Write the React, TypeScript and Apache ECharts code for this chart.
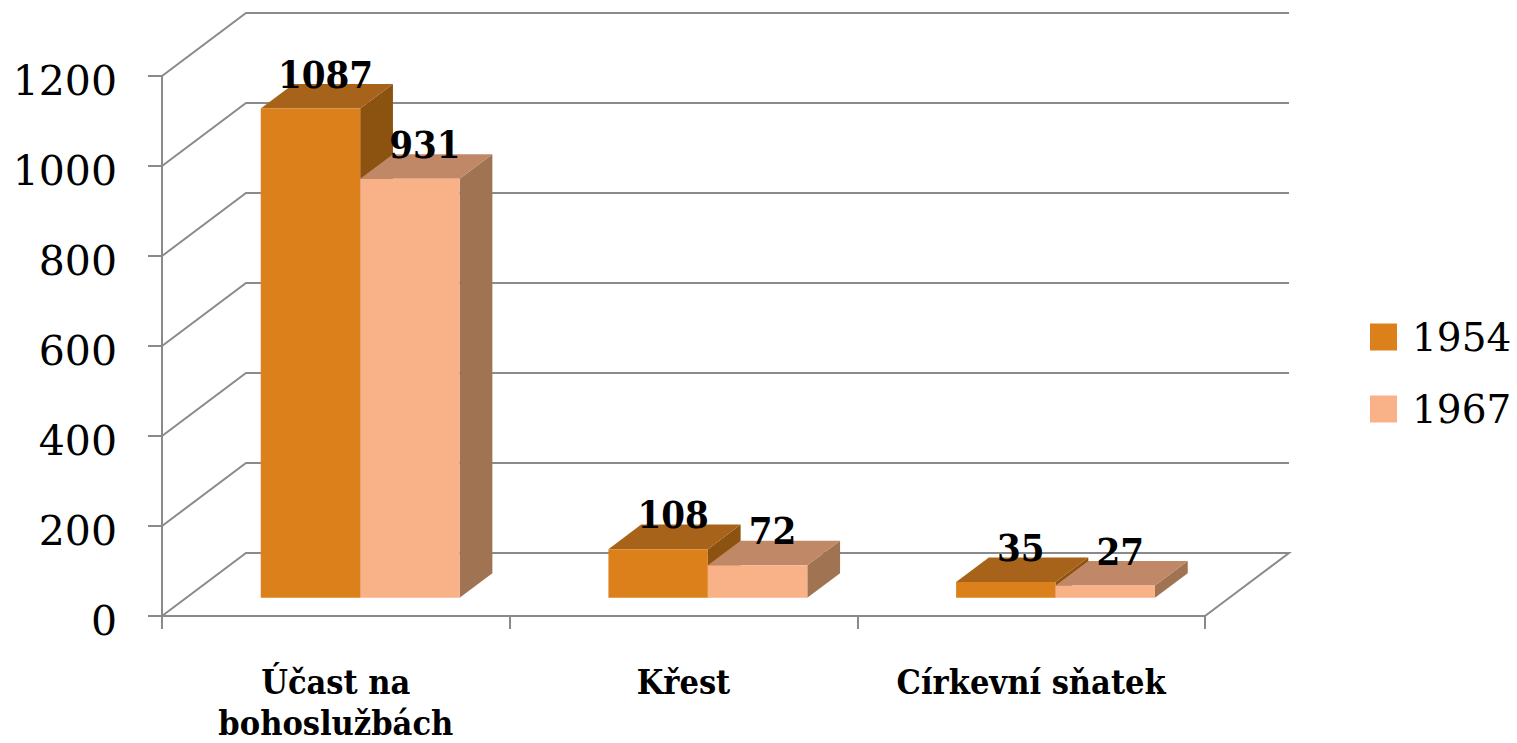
import React, { useEffect, useRef } from "react";
import * as echarts from "echarts";

const categories = ["Účast na\nbohoslužbách", "Křest", "Církevní sňatek"];
const seriesNames = ["1954", "1967"];
const values1954 = [1087, 108, 35];
const values1967 = [931, 72, 27];
const yTicks = [0, 200, 400, 600, 800, 1000, 1200];

const frontColors = ["#DB801B", "#F9B288"];
const topColors = ["#A8631A", "#C08866"];
const sideColors = ["#8C5210", "#A07453"];

// 3D projection parameters
const DEPTH_X = 84;
const DEPTH_Y = -63;
const BAR_FRONT = 0.29; // fraction of depth where bar front sits
const BAR_DEPTH = 0.39; // fraction of depth occupied by bar
const BAR_W = 0.286; // fraction of category band per bar
const GRID_COLOR = "#8A8A8A";
const COND = '"DejaVu Serif Condensed", "DejaVu Serif", serif';

function makeBarSeries(name: string, values: number[], s: number) {
  return {
    name,
    type: "custom",
    z: 5 + s,
    itemStyle: { color: frontColors[s] },
    data: values.map((v, i) => [i, v]),
    renderItem: (params: any, api: any) => {
      const cat = api.value(0);
      const val = api.value(1);
      const base = api.coord([cat, 0]);
      const top = api.coord([cat, val]);
      const bw = api.size([1, 0])[0];
      const sx = DEPTH_X * BAR_FRONT;
      const sy = DEPTH_Y * BAR_FRONT;
      const ddx = DEPTH_X * BAR_DEPTH;
      const ddy = DEPTH_Y * BAR_DEPTH;
      const W = bw * BAR_W;
      const L = base[0] + sx - W + s * W;
      const yb = base[1] + sy;
      const yt = top[1] + sy;
      return {
        type: "group",
        children: [
          {
            type: "polygon",
            shape: { points: [[L + W, yt], [L + W + ddx, yt + ddy], [L + W + ddx, yb + ddy], [L + W, yb]] },
            style: { fill: sideColors[s] },
          },
          {
            type: "polygon",
            shape: { points: [[L, yt], [L + W, yt], [L + W + ddx, yt + ddy], [L + ddx, yt + ddy]] },
            style: { fill: topColors[s] },
          },
          {
            type: "rect",
            shape: { x: L, y: yt, width: W, height: yb - yt },
            style: { fill: frontColors[s] },
          },
          {
            type: "text",
            z2: 10,
            style: {
              text: String(val),
              x: L + W / 2 + 15,
              y: yt + ddy + 9,
              align: "center",
              verticalAlign: "bottom",
              fontSize: 38,
              fontWeight: "bold",
              fontFamily: COND,
              fill: "#000",
            },
          },
        ],
      };
    },
  };
}

export default function App() {
  const ref = useRef<HTMLDivElement>(null);
  useEffect(() => {
    document.body.style.margin = "0";
    const chart = echarts.init(ref.current!, null, { renderer: "svg" });
    const option: any = {
      animation: false,
      backgroundColor: "#fff",
      grid: { left: 162, top: 76, width: 1043, height: 546, containLabel: false },
      legend: {
        data: seriesNames,
        orient: "vertical",
        left: 1365,
        top: 312,
        icon: "rect",
        itemWidth: 27,
        itemHeight: 27,
        itemGap: 32,
        selectedMode: false,
        textStyle: {
          fontFamily: "DejaVu Serif",
          fontSize: 39,
          lineHeight: 40,
          color: "#000",
          padding: [0, 0, 0, 10],
        },
      },
      xAxis: {
        type: "category",
        data: categories,
        boundaryGap: true,
        axisLine: { show: true, lineStyle: { color: GRID_COLOR, width: 2 } },
        axisTick: { show: true, length: 13, lineStyle: { color: GRID_COLOR, width: 2 } },
        axisLabel: {
          margin: 45,
          fontFamily: COND,
          fontWeight: "bold",
          fontSize: 34,
          lineHeight: 41,
          color: "#000",
          interval: 0,
        },
        splitLine: { show: false },
      },
      yAxis: {
        type: "value",
        min: 0,
        max: 1200,
        interval: 200,
        axisLine: { show: true, lineStyle: { color: GRID_COLOR, width: 2 } },
        axisTick: { show: true, length: 14, lineStyle: { color: GRID_COLOR, width: 2 } },
        axisLabel: {
          margin: 45,
          fontFamily: "DejaVu Serif",
          fontSize: 41,
          color: "#000",
          verticalAlign: "top",
          lineHeight: 10,
          formatter: (v: number) => String(v),
        },
        splitLine: { show: false },
      },
      series: [
        {
          name: "grid3d",
          type: "custom",
          z: 1,
          silent: true,
          data: yTicks.map((v) => [0, v]),
          renderItem: (params: any, api: any) => {
            const cs = params.coordSys;
            const y = api.coord([0, api.value(1)])[1];
            const x0 = cs.x;
            const x1 = cs.x + cs.width;
            const pts: number[][] = [
              [x0, y],
              [x0 + DEPTH_X, y + DEPTH_Y],
              [x1 + DEPTH_X, y + DEPTH_Y],
            ];
            if (api.value(1) === 0) pts.push([x1, y]);
            return {
              type: "polyline",
              shape: { points: pts },
              style: { stroke: GRID_COLOR, lineWidth: 2, fill: "none" },
            };
          },
        },
        makeBarSeries(seriesNames[0], values1954, 0),
        makeBarSeries(seriesNames[1], values1967, 1),
      ],
    };
    chart.setOption(option);
    return () => chart.dispose();
  }, []);
  return <div ref={ref} style={{ width: 1517, height: 743 }} />;
}
